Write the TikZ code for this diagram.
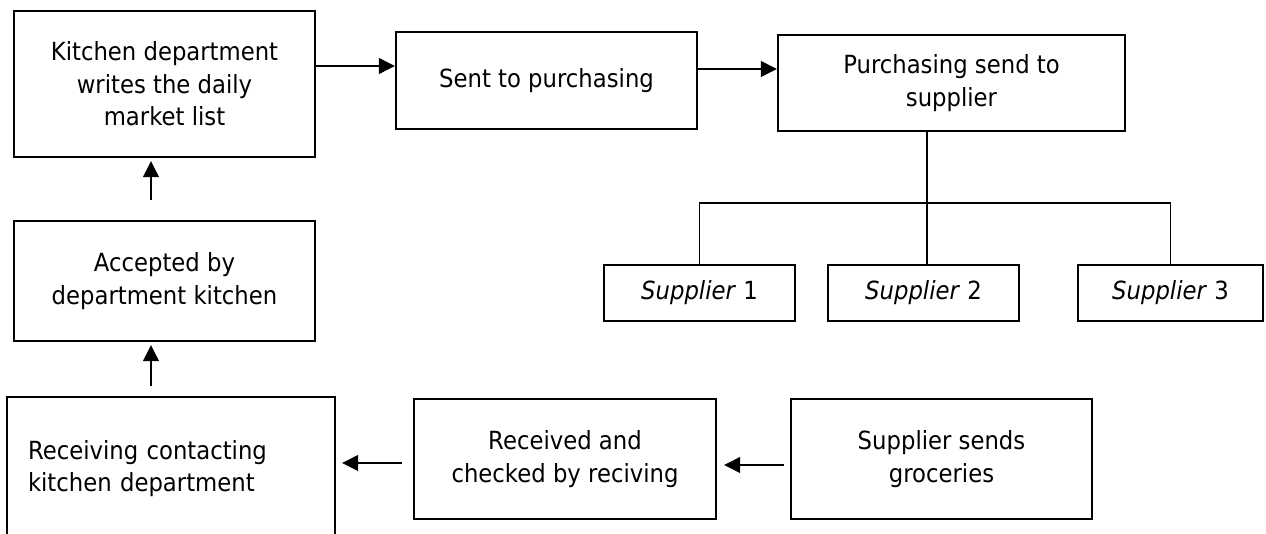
\documentclass[tikz,border=0pt]{standalone}
\usepackage{fontspec}
\setmainfont[FakeStretch=0.91]{DejaVu Sans}
\usepackage{tikz}
\usetikzlibrary{arrows.meta, calc, positioning}

\begin{document}
\begin{tikzpicture}[x=0.5pt, y=-0.5pt, >={Triangle[length=8pt, width=8pt]},
    box/.style={draw, line width=1.2pt, align=center, inner sep=0pt,
        font=\fontsize{12.5}{16.25}\selectfont},
    link/.style={line width=0.6pt}]
        \useasboundingbox (0,0) rectangle (1266,534);

        % top row
        \node[box, minimum width=150.5pt, minimum height=73pt] (kitchen) at (164.5,84)
            {Kitchen department\\writes the daily\\market list};
        \node[box, minimum width=150.5pt, minimum height=48.5pt] (sent) at (546.5,80.5)
            {Sent to purchasing};
        \node[box, minimum width=173.5pt, minimum height=48pt] (purch) at (951.5,83)
            {Purchasing send to\\supplier};

        % suppliers
        \foreach \i/\x/\w in {1/699.5/95.5, 2/923.5/95.5, 3/1170.5/92.5} {
            \node[box, minimum width=\w pt, minimum height=28pt] (sup\i) at (\x,293)
                {\textit{Supplier} \i};
        }

        % left column and bottom row
        \node[box, minimum width=150.5pt, minimum height=60pt] (accepted) at (164.5,281)
            {Accepted by\\department kitchen};
        \node[box, align=left, text width=143pt, minimum width=164pt, minimum height=71.5pt] (recv) at (171,468.5)
            {Receiving contacting\\kitchen department};
        \node[box, minimum width=151pt, minimum height=60pt] (received) at (565,459)
            {Received and\\checked by reciving};
        \node[box, minimum width=150.5pt, minimum height=60pt] (sends) at (941.5,459)
            {Supplier sends\\groceries};

        % arrows to the right
        \draw[->, link] (kitchen.east |- 0,66) -- (sent.west |- 0,66);
        \draw[->, link] (sent.east |- 0,69) -- (purch.west |- 0,69);

        % branch to the suppliers
        \coordinate (split) at (927,203);
        \draw[link] (purch.south -| split) -- (sup2.north -| split);
        \draw[link] (sup1.north) |- (split) -| (sup3.north);

        % arrows back to the kitchen
        \draw[->, link, shorten <=3pt, shorten >=3.5pt] (sends.west |- 0,465) -- (received.east |- 0,465);
        \draw[->, link, shorten <=5.5pt, shorten >=3pt] (received.west |- 0,463) -- (recv.east |- 0,463);
        \draw[->, link, shorten <=5pt, shorten >=1.5pt] (recv.north -| 151,0) -- (accepted.south -| 151,0);
        \draw[->, link, shorten <=10pt, shorten >=1.5pt] (accepted.north -| 151,0) -- (kitchen.south -| 151,0);
    \end{tikzpicture}
\end{document}
